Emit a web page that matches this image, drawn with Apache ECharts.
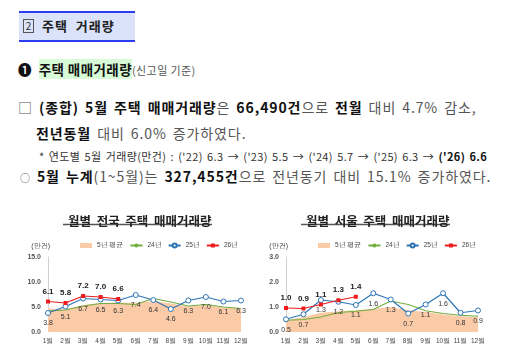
<!DOCTYPE html>
<html>
<head>
<meta charset="utf-8">
<script src="https://cdn.jsdelivr.net/npm/echarts@6/dist/echarts.min.js"></script>
<style>
  body { margin: 0; width: 511px; height: 362px; background: #fff; overflow: hidden;
    font-family: "Noto Sans CJK KR", sans-serif; color: #222; position: relative; }
  .ln { position: absolute; white-space: nowrap; line-height: 1; }
  .ln b { font-weight: 700; color: #111; }
  .nm { color: #555; font-weight: 400; }
  .p { font-size: 14px; letter-spacing: 0.9px; word-spacing: 2px; }
  .head { position: absolute; left: 19px; top: 11px; width: 116px; height: 27px;
    background: #dbe3fa; border-top: 2px solid #2b3cf2; border-bottom: 2px solid #2b3cf2; }
  .head .num { position: absolute; left: 4px; top: 6px; width: 9px; height: 12px; border: 1px solid #555;
    font-size: 10px; line-height: 12px; text-align: center; color: #333; }
  .head .tt { position: absolute; left: 23px; top: 6px; font-size: 13px; font-weight: 700; line-height: 1; letter-spacing: 1px; }
  .hl { background: #d6fbd6; }
  #c1 { position: absolute; left: 0; top: 195px; width: 256px; height: 167px; }
  #c2 { position: absolute; left: 256px; top: 195px; width: 255px; height: 167px; }
</style>
</head>
<body>
<div class="head"><div class="num">2</div><div class="tt">주택&nbsp; 거래량</div></div>
<div class="ln" style="left:18px;top:63px;font-size:13.5px;letter-spacing:0.4px;"><b>❶</b>&nbsp; <b class="hl">주택 매매거래량</b><span class="nm" style="font-size:11px;">(신고일 기준)</span></div>
<div class="ln p" style="left:18px;top:100px;"><span class="nm">□</span> <b>(종합) 5월 주택 매매거래량</b><span class="nm">은</span> <b>66,490건</b><span class="nm">으로</span> <b>전월</b> <span class="nm">대비 4.7% 감소,</span></div>
<div class="ln p" style="left:36px;top:126px;"><b>전년동월</b> <span class="nm">대비 6.0% 증가하였다.</span></div>
<div class="ln" style="left:39px;top:151px;font-size:11px;letter-spacing:0.35px;word-spacing:1.5px;"><span class="nm" style="color:#333">* 연도별 5월 거래량(만건) : ('22) 6.3 → ('23) 5.5 → ('24) 5.7 → ('25) 6.3 →</span> <b>('26) 6.6</b></div>
<div class="ln p" style="left:20px;top:169px;"><span class="nm" style="font-size:10px;">○</span> <b>5월 누계</b><span class="nm">(1~5월)는</span> <b>327,455건</b><span class="nm">으로 전년동기 대비 15.1% 증가하였다.</span></div>
<div id="c1"></div>
<div id="c2"></div>
<script>
const months = ['1월', '2월', '3월', '4월', '5월', '6월', '7월', '8월', '9월', '10월', '11월', '12월'];

// 전국 (만건)
const natAvg5 = [4.7, 4.5, 5.4, 5.8, 5.9, 5.8, 6.2, 5.7, 5.1, 5.4, 4.9, 4.7];
const nat24 = [4.2, 4.4, 5.2, 5.7, 5.7, 5.5, 6.7, 6.0, 5.2, 5.5, 5.0, 4.7];
const nat25 = [3.8, 5.1, 6.7, 6.5, 6.3, 7.4, 6.4, 4.6, 6.3, 7.0, 6.1, 6.3];
const nat26 = [6.1, 5.8, 7.2, 7.0, 6.6];

// 서울 (만건)
const seoAvg5 = [0.47, 0.6, 0.77, 0.83, 0.87, 0.93, 1.0, 0.87, 0.8, 0.7, 0.63, 0.6];
const seo24 = [0.47, 0.5, 0.6, 0.78, 0.83, 0.9, 1.24, 1.1, 0.85, 0.74, 0.67, 0.63];
const seo25 = [0.51, 0.71, 1.28, 1.21, 1.08, 1.55, 1.3, 0.74, 1.1, 1.55, 0.77, 0.86];
const seo26 = [0.96, 0.94, 1.1, 1.27, 1.41];

const seriesNames = ['5년 평균', '24년', '25년', '26년'];

function fmt (p) { return Number(p.value).toFixed(1) }

function makeChart (el, title, titleLeft, titleW, legendLeft, gridLeft, gridRight, yMax, avg, s24, s25, s26) {
  const chart = echarts.init(document.getElementById(el));
  chart.setOption({
    animation: false,
    title: {
      text: title,
      left: titleLeft,
      top: 15,
      textStyle: { fontSize: 12.5, fontWeight: 'bold', color: '#222', fontFamily: 'Noto Sans CJK KR' }
    },
    graphic: [{
      type: 'line',
      shape: { x1: titleLeft, y1: 29.5, x2: titleLeft + titleW, y2: 29.5 },
      style: { stroke: '#555', lineWidth: 1.5 }
    }],
    legend: {
      top: 47,
      left: legendLeft,
      width: 180,
      padding: 0,
      itemWidth: 12,
      itemHeight: 5,
      itemGap: 6,
      textStyle: { fontSize: 6.5, color: '#444' },
      data: [
        { name: seriesNames[0], icon: 'rect' },
        { name: seriesNames[1] },
        { name: seriesNames[2] },
        { name: seriesNames[3] }
      ]
    },
    grid: { left: gridLeft, right: gridRight, top: 62, height: 75 },
    xAxis: {
      type: 'category',
      data: months,
      boundaryGap: false,
      axisLine: { show: false },
      axisTick: { show: false },
      axisLabel: { fontSize: 6.5, color: '#444', margin: 6, interval: 0 }
    },
    yAxis: {
      type: 'value',
      min: 0,
      max: yMax,
      interval: yMax / 3,
      name: '(만건)',
      nameGap: 7,
      nameTextStyle: { fontSize: 7, color: '#444', align: 'right', padding: [0, -2, 0, 0] },
      axisLine: { show: true, lineStyle: { color: '#d0d0d0' } },
      axisTick: { show: false },
      splitLine: { show: false },
      axisLabel: { fontSize: 7, color: '#555', fontWeight: 'bold', margin: 7, formatter: v => v.toFixed(1) }
    },
    series: [
      {
        name: seriesNames[0], type: 'line', data: avg, symbol: 'none',
        lineStyle: { width: 0 }, itemStyle: { color: '#fbcaa6' },
        areaStyle: { color: '#fbcaa6', opacity: 1 }
      },
      {
        name: seriesNames[1], type: 'line', data: s24, symbol: 'none',
        lineStyle: { width: 1.2, color: '#72ae3f' }, itemStyle: { color: '#72ae3f' }
      },
      {
        name: seriesNames[2], type: 'line', data: s25, symbol: 'circle', symbolSize: 5,
        lineStyle: { width: 1.2, color: '#2e75b6' },
        itemStyle: { color: '#fff', borderColor: '#2e75b6', borderWidth: 1 },
        label: { show: true, position: 'bottom', distance: 4, fontSize: 7, color: '#333', formatter: fmt }
      },
      {
        name: seriesNames[3], type: 'line', data: s26, symbol: 'rect', symbolSize: 4,
        lineStyle: { width: 1.2, color: '#ee1c1c' }, itemStyle: { color: '#ee1c1c' },
        label: { show: true, position: 'top', distance: 4, fontSize: 8, fontWeight: 'bold', color: '#222', formatter: fmt }
      }
    ]
  });
}

makeChart('c1', '월별  전국  주택  매매거래량', 63, 149, 80, 48, 15, 15, natAvg5, nat24, nat25, nat26);
makeChart('c2', '월별  서울  주택  매매거래량', 45, 149, 62, 30, 33, 3, seoAvg5, seo24, seo25, seo26);
</script>
</body>
</html>
